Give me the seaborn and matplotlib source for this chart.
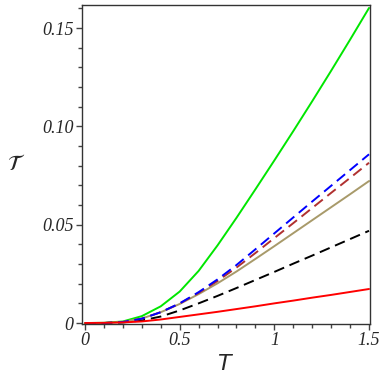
import numpy as np
import pandas as pd
import matplotlib
matplotlib.use('Agg')
import matplotlib.pyplot as plt
import seaborn as sns
from matplotlib.ticker import MultipleLocator

# temperature grid
T = [0.0, 0.1, 0.2, 0.3, 0.4, 0.5, 0.6, 0.7, 0.8, 0.9, 1.0, 1.1, 1.2, 1.3, 1.4, 1.5]

# curves
green = [0.0, 0.0001, 0.0008, 0.0035, 0.0085, 0.0160, 0.0265, 0.0395, 0.0535, 0.0680,
         0.0827, 0.0976, 0.1128, 0.1283, 0.1441, 0.1602]
blue = [0.0, 0.0, 0.0005, 0.0022, 0.0055, 0.0100, 0.0157, 0.0222, 0.0295, 0.0375,
        0.0456, 0.0537, 0.0618, 0.0698, 0.0778, 0.0858]
brown = [0.0, 0.0, 0.0005, 0.0022, 0.0055, 0.0099, 0.0153, 0.0214, 0.0282, 0.0356,
         0.0432, 0.0508, 0.0585, 0.0662, 0.0738, 0.0815]
tan = [0.0, 0.0, 0.0006, 0.0023, 0.0055, 0.0097, 0.0147, 0.0202, 0.0262, 0.0326,
       0.0391, 0.0457, 0.0523, 0.0589, 0.0655, 0.0722]
black = [0.0, 0.0, 0.0003, 0.0013, 0.0033, 0.0064, 0.0100, 0.0138, 0.0178, 0.0219,
         0.0260, 0.0302, 0.0343, 0.0385, 0.0427, 0.0469]
red = [0.0, 0.0001, 0.0003, 0.0008, 0.0018, 0.0031, 0.0044, 0.0057, 0.0071, 0.0085,
       0.0100, 0.0114, 0.0129, 0.0143, 0.0158, 0.0173]

xticks = [0, 0.5, 1, 1.5]
xticklabels = ['0', '0.5', '1', '1.5']
yticks = [0, 0.05, 0.10, 0.15]
yticklabels = ['0', '0.05', '0.10', '0.15']

sns.set_style('ticks')
plt.rcParams['font.family'] = ['Liberation Serif', 'DejaVu Serif']

fig = plt.figure(figsize=(3.86, 3.86), dpi=100)
ax = fig.add_axes([0.2124, 0.1606, 0.7461, 0.8264])

series = [
    (green, '#00e600', '-'),
    (black, '#000000', (0, (5.5, 3))),
    (tan, '#a89a6a', '-'),
    (brown, '#b03030', (0, (5.5, 3))),
    (blue, '#0000ff', (0, (5.5, 3))),
    (red, '#ff0000', '-'),
]
for vals, col, ls in series:
    sns.lineplot(x=T, y=vals, color=col, linestyle=ls, linewidth=1.4, ax=ax)

ax.set_xlim(-0.016, 1.505)
ax.set_ylim(-0.0005, 0.1617)

ax.set_xticks(xticks)
ax.set_xticklabels(xticklabels, fontstyle='italic', fontsize=13)
ax.set_yticks(yticks)
ax.set_yticklabels(yticklabels, fontstyle='italic', fontsize=13)
ax.xaxis.set_minor_locator(MultipleLocator(0.1))
ax.yaxis.set_minor_locator(MultipleLocator(0.01))
ax.tick_params(which='major', direction='out', length=4, width=1, color='#444444', pad=2)
ax.tick_params(which='minor', direction='out', length=3, width=1, color='#444444')

for s in ax.spines.values():
    s.set_color('#333333')
    s.set_linewidth(1)

ax.set_xlabel('$T$', fontsize=16, labelpad=4)
ax.set_ylabel(r'$\mathcal{T}$', fontsize=16, rotation=0, va='center', ha='center')
ax.yaxis.set_label_coords(-0.23, 0.5)

fig.savefig('out.png', dpi=100)
